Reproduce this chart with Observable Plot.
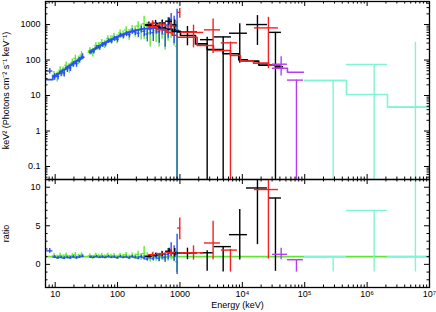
<!DOCTYPE html>
<html>
<head>
<meta charset="utf-8">
<script src="https://cdn.jsdelivr.net/npm/d3@7"></script>
<script src="https://cdn.jsdelivr.net/npm/@observablehq/plot@0.6"></script>
<style>
html,body{margin:0;padding:0;background:#fff;}
#chart{position:relative;width:436px;height:312px;overflow:hidden;background:#fff;}
#chart svg{position:absolute;left:0;display:block;}
</style>
</head>
<body>
<div id="chart"></div>
<script>
// ---------- axis definitions ----------
const xDomain = [7, 1e7];
const xMajor = [10, 100, 1000, 1e4, 1e5, 1e6, 1e7];
const xMajorLabels = ["10", "100", "1000", "10⁴", "10⁵", "10⁶", "10⁷"];
const yTopDomain = [0.043, 4460];
const yTopMajor = [0.1, 1, 10, 100, 1000];
const yTopLabels = ["0.1", "1", "10", "100", "1000"];
const yRatioDomain = [-3, 11];
const yRatioMajor = [0, 5, 10];
const yRatioMinor = [-3, -2, -1, 1, 2, 3, 4, 6, 7, 8, 9, 11];
const yTopTitle = "keV² (Photons cm⁻² s⁻¹ keV⁻¹)";
const yRatioTitle = "ratio";
const xTitle = "Energy (keV)";

// ---------- data: [E low, E high, model (keV² flux), ratio, ratio error] ----------
const blue = [
  [7.3, 9.2, 28, 1.75, 0.3], [9.2, 10.5, 36, 0.95, 0.2], [10.5, 11.8, 41, 0.85, 0.18],
  [11.8, 13.2, 47, 0.9, 0.18], [13.2, 14.8, 54, 0.8, 0.18], [14.8, 16.6, 62, 0.9, 0.18],
  [16.6, 18.6, 71, 0.85, 0.18], [18.6, 20.8, 81, 0.95, 0.18], [20.8, 23.3, 93, 0.85, 0.18],
  [23.3, 26.1, 106, 0.95, 0.18], [26.1, 29.0, 120, 1.05, 0.2],
  [35.5, 39.5, 175, 0.95, 0.15], [39.5, 44, 198, 0.9, 0.15], [44, 49, 224, 1.0, 0.15],
  [49, 55, 252, 0.9, 0.15], [55, 61, 282, 0.95, 0.15], [61, 68, 312, 0.9, 0.15],
  [68, 76, 345, 1.0, 0.15], [76, 85, 380, 0.9, 0.15], [85, 95, 418, 0.95, 0.15],
  [95, 106, 455, 0.85, 0.15], [106, 118, 495, 1.0, 0.15], [118, 132, 535, 0.9, 0.15],
  [132, 147, 575, 0.95, 0.16], [147, 164, 612, 0.85, 0.16], [164, 183, 648, 1.0, 0.17],
  [183, 204, 682, 0.9, 0.18], [204, 228, 712, 0.8, 0.2], [228, 254, 738, 1.0, 0.22],
  [254, 284, 758, 0.85, 0.25], [284, 317, 772, 0.7, 0.28], [317, 354, 782, 0.95, 0.3],
  [354, 395, 788, 0.75, 0.33], [395, 441, 790, 1.05, 0.38], [441, 492, 786, 0.8, 0.42],
  [492, 549, 778, 1.15, 0.5], [549, 613, 766, 0.9, 0.6], [613, 684, 752, 1.3, 0.75],
  [684, 764, 735, 1.9, 0.9], [764, 853, 715, 1.4, 1.0], [853, 950, 690, 1.3, 2.6]
];
const green = [
  [9.0, 10.2, 34, 1.1, 0.3], [10.2, 11.4, 39, 0.9, 0.28], [11.4, 12.7, 45, 1.15, 0.28],
  [12.7, 14.2, 52, 0.95, 0.28], [14.2, 15.9, 59, 1.2, 0.28], [15.9, 17.8, 68, 0.9, 0.28],
  [17.8, 19.9, 78, 1.1, 0.28], [19.9, 22.3, 89, 1.25, 0.28], [22.3, 25.0, 101, 1.0, 0.28],
  [25.0, 28.0, 115, 1.2, 0.3],
  [34, 38, 165, 1.1, 0.25], [38, 42.5, 187, 0.9, 0.25], [42.5, 47.5, 212, 1.2, 0.25],
  [47.5, 53, 240, 1.05, 0.25], [53, 59, 270, 1.15, 0.25], [59, 66, 300, 0.95, 0.25],
  [66, 74, 334, 1.2, 0.25], [74, 83, 370, 1.05, 0.25], [83, 93, 408, 1.15, 0.25],
  [93, 104, 446, 0.9, 0.25], [104, 116, 486, 1.2, 0.25], [116, 130, 526, 1.0, 0.27],
  [130, 145, 566, 1.25, 0.28], [145, 162, 604, 0.9, 0.3], [162, 181, 640, 1.15, 0.32],
  [181, 202, 674, 1.0, 0.35], [202, 226, 704, 1.3, 0.4], [226, 252, 730, 0.95, 0.45],
  [252, 282, 750, 1.4, 0.9], [282, 315, 765, 1.0, 0.5], [315, 352, 776, 0.75, 0.45],
  [352, 393, 782, 1.1, 0.5], [393, 439, 784, 0.85, 0.45], [439, 490, 780, 0.75, 0.45],
  [490, 547, 772, 1.0, 0.5], [547, 611, 760, 0.7, 0.45], [611, 682, 746, 0.95, 0.5],
  [682, 762, 730, 1.1, 0.55], [762, 851, 710, 0.85, 0.5], [851, 930, 690, 0.35, 1.4]
];

// ---------- data: [E low, E high, E centre, model, ratio, ratio low, ratio high] ----------
const black = [
  [280, 360, 318, 950, 1.05, 0.85, 1.25], [360, 460, 407, 900, 1.2, 0.95, 1.45],
  [460, 590, 521, 820, 1.35, 1.05, 1.65], [590, 760, 670, 730, 1.7, 1.3, 2.1],
  [760, 900, 827, 650, 1.5, 0.95, 2.05], [913, 1909, 1320, 420, 1.47, 0.6, 2.1],
  [2133, 3446, 2731, 250, 1.5, -0.9, 1.75], [3575, 6695, 4930, 195, 2.3, -1.0, 2.3],
  [6220, 12085, 9097, 148, 3.85, 0.55, 7.1], [11650, 25280, 17475, 101, 9.9, 2.55, 17.7],
  [26230, 42360, 33960, 70, 8.6, -0.9, 8.6]
];
const red = [
  [313, 421, 363, 850, 1.26, 1.0, 1.5], [421, 608, 510, 700, 1.4, 1.1, 1.7],
  [608, 848, 720, 590, 1.55, 1.15, 1.95], [920, 1030, 994, 470, 4.7, 3.2, 6.0],
  [1030, 2400, 1650, 400, 1.5, 0.55, 2.4], [2470, 4460, 3400, 256, 2.77, 0.6, 5.6],
  [4600, 8350, 6450, 165, 1.85, -1.0, 1.95], [15640, 37930, 26200, 83, 9.7, 0.69, 19.3]
];
const purple = [
  [30400, 52880, 41900, 58.8, 1.3, 0.6, 2.1], [52880, 95400, 73700, 45.3, 0.6, -1.0, 0.6]
];
const cyan = [
  [99000, 466500, 285600, 26.5, 1.0, -1.0, 1.0],
  [466500, 2118000, 1296000, 10.7, 7.0, -1.0, 7.0],
  [2118000, 9970000, 5950000, 4.7, 1.0, -1.0, 67]
];

// ---------- model step histograms: [E low, E high, model] ----------
const blackModel = [
  [280, 360, 950], [360, 460, 900], [460, 590, 820], [590, 751, 730], [751, 1020, 640],
  [1020, 1774, 490], [1774, 2731, 285], [2731, 4930, 197], [4930, 8767, 150],
  [8767, 12085, 101], [12085, 18335, 93], [18335, 33960, 72], [33960, 44000, 64]
];
const redModel = [
  [313, 421, 860], [421, 608, 720], [608, 751, 600], [751, 903, 500], [903, 1888, 440],
  [1888, 3446, 256], [3446, 6453, 185], [6453, 9333, 134], [9333, 15080, 93],
  [15080, 26230, 82], [26230, 40830, 72]
];
const purpleModel = [[30400, 52880, 58.8], [52880, 95400, 45.3]];
const cyanModel = [[99000, 466500, 26.5], [466500, 2118000, 10.7], [2118000, 9970000, 4.7]];

// ---------- helpers ----------
const FONT = '"Liberation Sans", Arial, Helvetica, sans-serif';
const W = 436, ML = 45, MR = 7;
const FW = W - ML - MR;
const TOP_H = 180, TOP_MT = 1, TOP_MB = 1, TOP_FH = TOP_H - TOP_MT - TOP_MB;
const BOT_H = 134, BOT_MT = 1, BOT_MB = 25, BOT_FH = BOT_H - BOT_MT - BOT_MB;
const SW = 1.4;

function fromSimple(rows) {
  return rows.map(([x1, x2, m, r, e]) => ({x1, x2, x: Math.sqrt(x1 * x2), m, r, lo: r - e, hi: r + e}));
}
function fromFull(rows) {
  return rows.map(([x1, x2, x, m, r, lo, hi]) => ({x1, x2, x, m, r, lo, hi}));
}
function steps(rows) {
  const pts = [];
  let prev = null;
  for (const [a, b, v] of rows) {
    if (prev !== null && Math.abs(a - prev) / prev > 0.02) pts.push({x: NaN, y: NaN});
    pts.push({x: a, y: v}, {x: b, y: v});
    prev = b;
  }
  return pts;
}

const series = [
  {pts: fromSimple(green), model: steps(green.map(d => [d[0], d[1], d[2]])), color: "#5fe832"},
  {pts: fromSimple(blue), model: steps(blue.map(d => [d[0], d[1], d[2]])), color: "#2b4ff5"},
  {pts: fromFull(black), model: steps(blackModel), color: "#000000"},
  {pts: fromFull(red), model: steps(redModel), color: "#f52020"},
  {pts: fromFull(purple), model: steps(purpleModel), color: "#b53cf2"},
  {pts: fromFull(cyan), model: steps(cyanModel), color: "#80f5d5"}
];

const xAllTicks = d3.scaleLog().domain(xDomain).ticks();
const xMinor = xAllTicks.filter(t => !xMajor.some(m => Math.abs(m - t) / m < 1e-6));
const yTopAll = d3.scaleLog().domain(yTopDomain).ticks();
const yTopMinor = yTopAll.filter(t => !yTopMajor.some(m => Math.abs(m - t) / m < 1e-6));

function frameTicks(xMaj, xMin, yMaj, yMin, fh) {
  const big = 5, small = 2.5, st = {stroke: "#000", strokeWidth: 1};
  return [
    Plot.tickX(xMaj, {x: d => d, insetTop: fh - big, ...st}),
    Plot.tickX(xMaj, {x: d => d, insetBottom: fh - big, ...st}),
    Plot.tickX(xMin, {x: d => d, insetTop: fh - small, ...st}),
    Plot.tickX(xMin, {x: d => d, insetBottom: fh - small, ...st}),
    Plot.tickY(yMaj, {y: d => d, insetRight: FW - big, ...st}),
    Plot.tickY(yMaj, {y: d => d, insetLeft: FW - big, ...st}),
    Plot.tickY(yMin, {y: d => d, insetRight: FW - small, ...st}),
    Plot.tickY(yMin, {y: d => d, insetLeft: FW - small, ...st})
  ];
}

// ---------- top panel ----------
const topMarks = [];
for (const s of series) {
  topMarks.push(
    Plot.line(s.model, {x: "x", y: "y", stroke: s.color, strokeWidth: 1.6, clip: true}),
    Plot.ruleY(s.pts, {y: d => d.m * d.r, x1: "x1", x2: "x2", stroke: s.color, strokeWidth: SW, clip: true}),
    Plot.ruleX(s.pts, {x: "x", y1: d => Math.max(d.m * d.lo, 0.005), y2: d => d.m * d.hi, stroke: s.color, strokeWidth: SW, clip: true})
  );
}
const topPlot = Plot.plot({
  width: W, height: TOP_H,
  marginLeft: ML, marginRight: MR, marginTop: TOP_MT, marginBottom: TOP_MB,
  style: {fontFamily: FONT, fontSize: "9px", color: "#000", background: "transparent", overflow: "visible"},
  x: {type: "log", domain: xDomain, axis: null},
  y: {type: "log", domain: yTopDomain},
  marks: [
    ...topMarks,
    Plot.frame({stroke: "#000", strokeWidth: 1.3}),
    ...frameTicks(xMajor, xMinor, yTopMajor, yTopMinor, TOP_FH),
    Plot.axisY(yTopMajor, {
      tickSize: 0, tickPadding: 5,
      tickFormat: d => yTopLabels[yTopMajor.indexOf(d)],
      label: yTopTitle, labelAnchor: "center", labelOffset: 43, labelArrow: "none", fontSize: 9
    })
  ]
});

// ---------- ratio panel ----------
const botMarks = [Plot.ruleY([1], {stroke: "#5fe832", strokeWidth: 1.7})];
for (const s of series) {
  botMarks.push(
    Plot.ruleY(s.pts, {y: "r", x1: "x1", x2: "x2", stroke: s.color, strokeWidth: SW, clip: true}),
    Plot.ruleX(s.pts, {x: "x", y1: "lo", y2: "hi", stroke: s.color, strokeWidth: SW, clip: true})
  );
}
const botPlot = Plot.plot({
  width: W, height: BOT_H,
  marginLeft: ML, marginRight: MR, marginTop: BOT_MT, marginBottom: BOT_MB,
  style: {fontFamily: FONT, fontSize: "9px", color: "#000", background: "transparent", overflow: "visible"},
  x: {type: "log", domain: xDomain},
  y: {domain: yRatioDomain},
  marks: [
    ...botMarks,
    Plot.frame({stroke: "#000", strokeWidth: 1.3}),
    ...frameTicks(xMajor, xMinor, yRatioMajor, yRatioMinor, BOT_FH),
    Plot.axisX(xMajor, {
      tickSize: 0, tickPadding: 3,
      tickFormat: d => xMajorLabels[xMajor.indexOf(d)],
      label: xTitle, labelAnchor: "center", labelOffset: 20, labelArrow: "none", fontSize: 9
    }),
    Plot.axisY(yRatioMajor, {
      tickSize: 0, tickPadding: 5,
      label: yRatioTitle, labelAnchor: "center", labelOffset: 43, labelArrow: "none", fontSize: 9
    })
  ]
});

const chart = document.getElementById("chart");
topPlot.style.top = "0px";
botPlot.style.top = (TOP_H - 2) + "px";
chart.appendChild(topPlot);
chart.appendChild(botPlot);
</script>
</body>
</html>
